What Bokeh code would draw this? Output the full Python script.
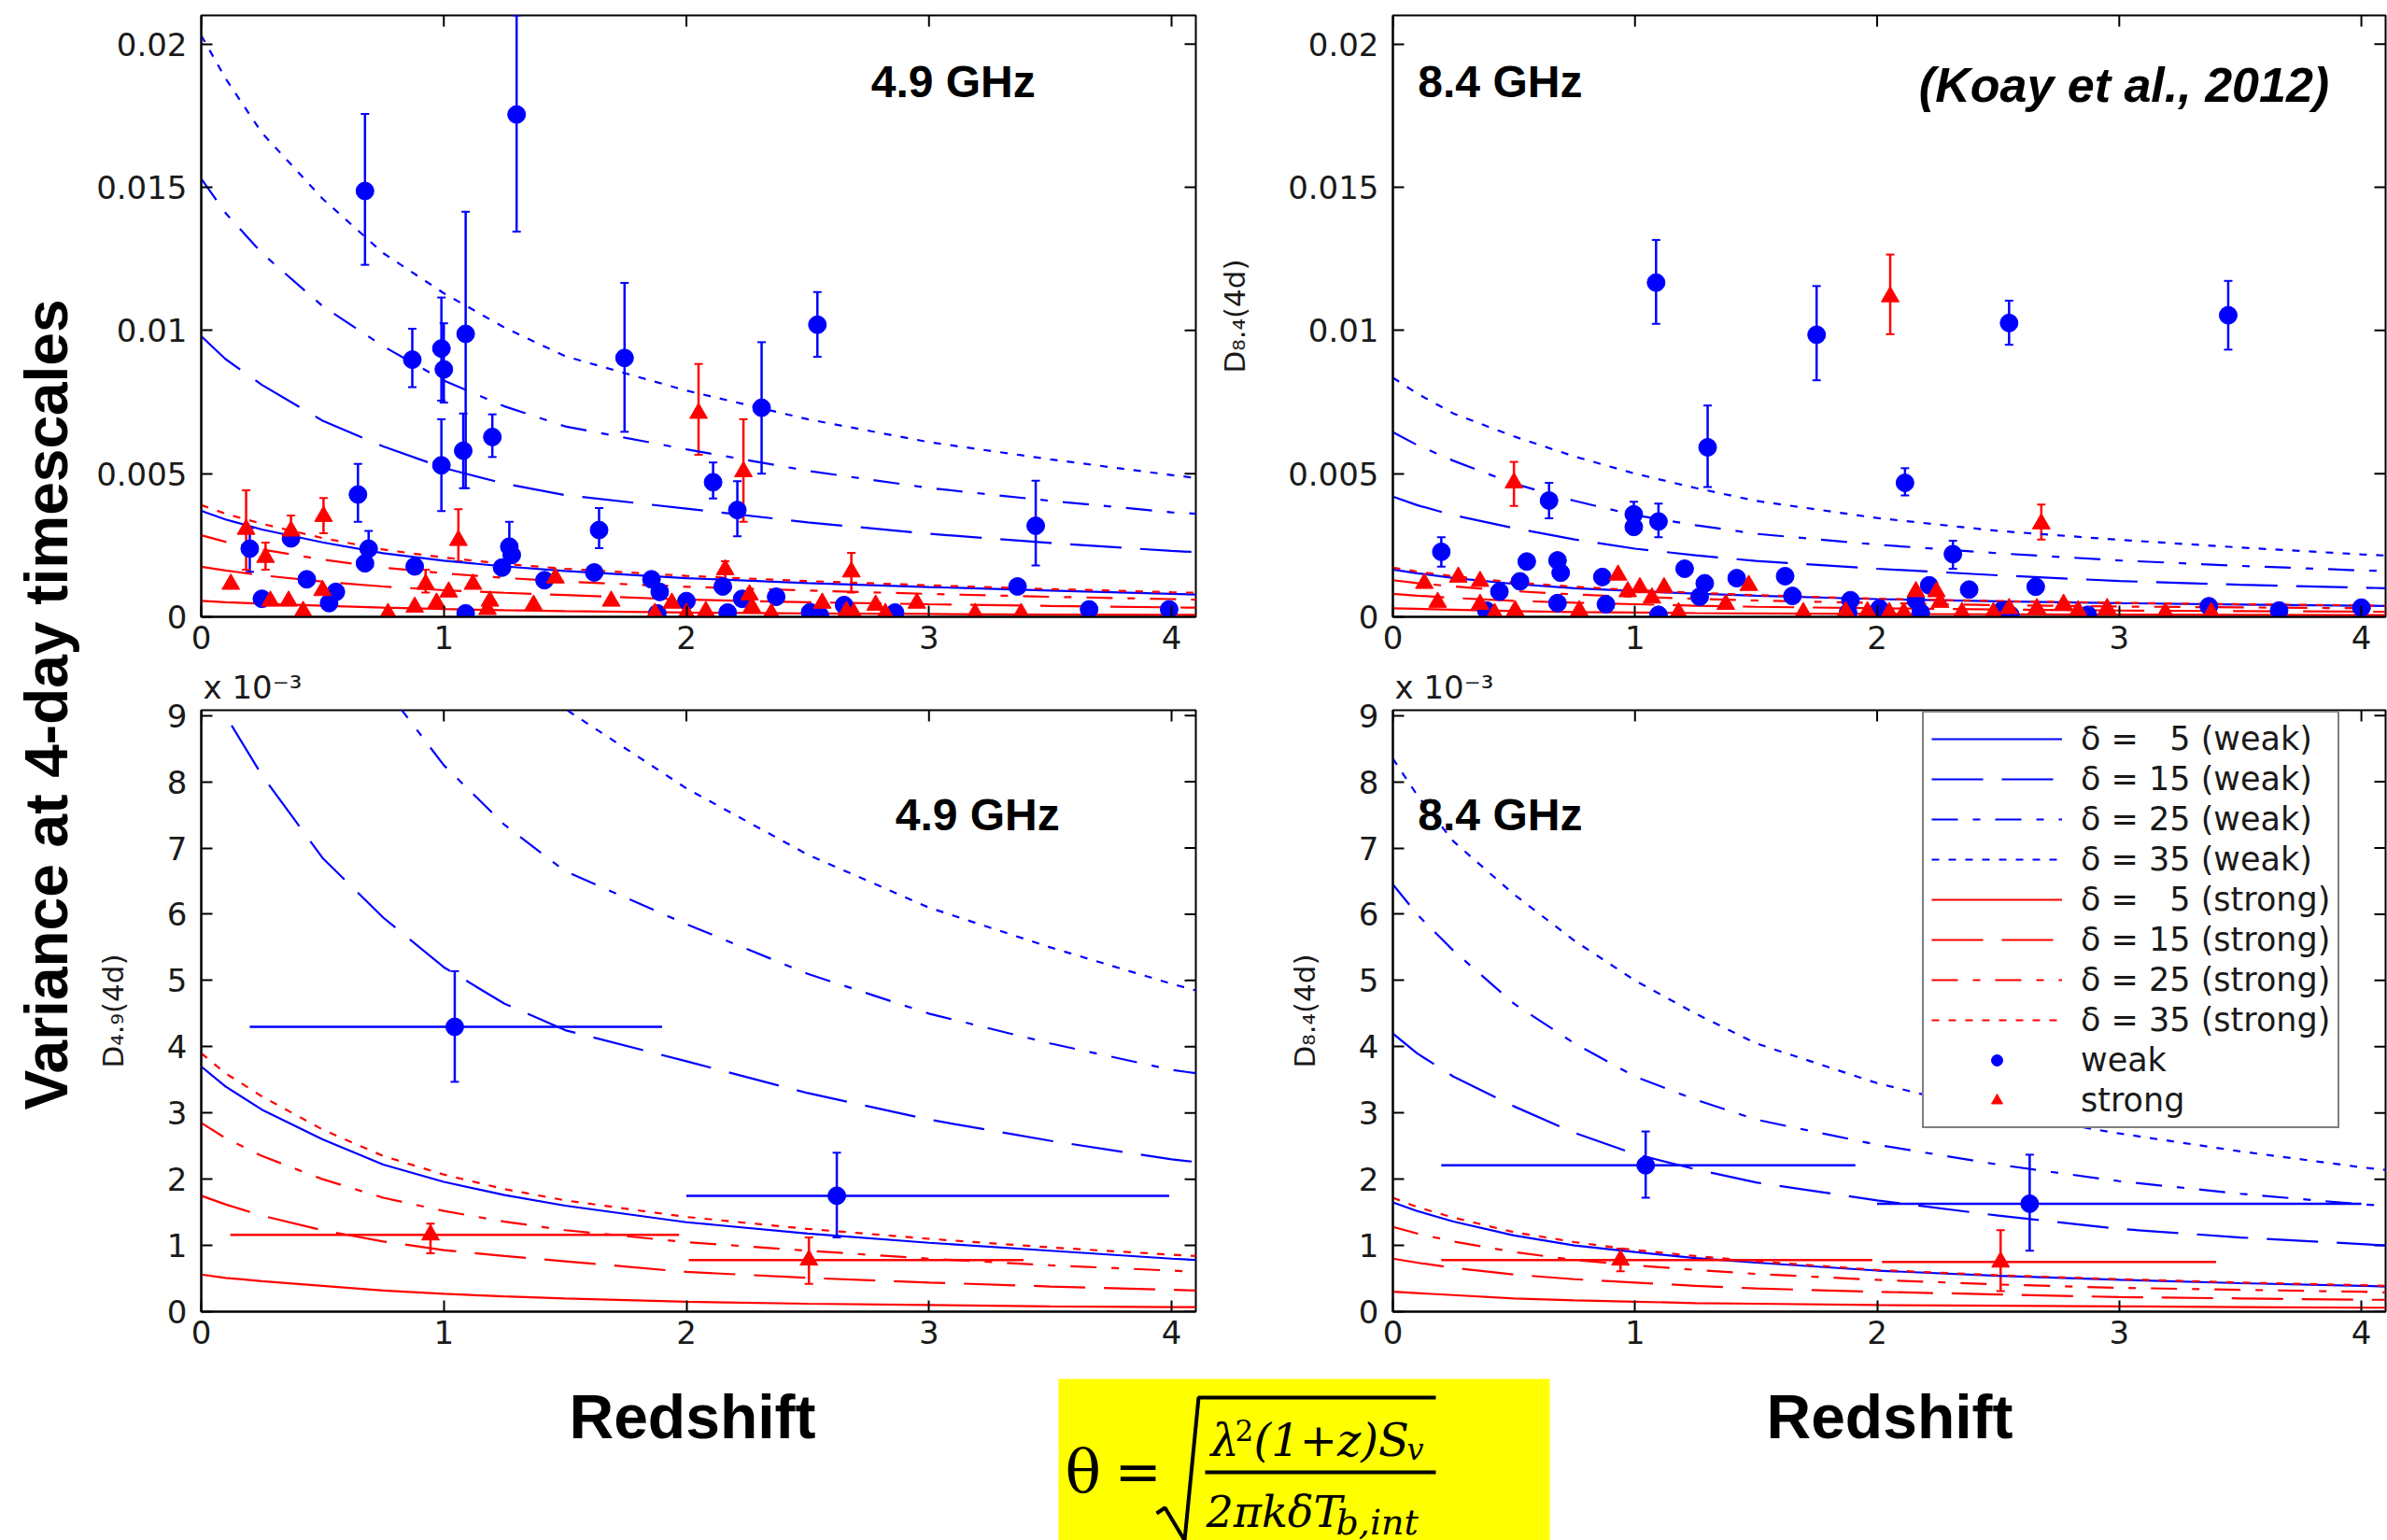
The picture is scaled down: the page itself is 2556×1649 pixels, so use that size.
import math
from bokeh.plotting import figure
from bokeh.models import (Range1d, FixedTicker, Label, Legend, LegendItem, Title,
                          Whisker, TeeHead, ColumnDataSource)
from bokeh.layouts import row, column
from bokeh.embed import file_html
from bokeh.resources import INLINE
from bokeh.core.properties import value

# ---------------------------------------------------------------- data
x_ticks = [0, 1, 2, 3, 4]
top_y_ticks = [0, 0.005, 0.01, 0.015, 0.02]
top_y_labels = ["0", "0.005", "0.01", "0.015", "0.02"]
bot_y_ticks = [0, 1, 2, 3, 4, 5, 6, 7, 8, 9]
deltas = [5, 15, 25, 35]

# model curves, D(4d) in units of 1e-3, sampled at z_model
z_model = [0, 0.1, 0.25, 0.5, 0.75, 1.0, 1.25, 1.5, 2.0, 2.5, 3.0, 3.5, 4.0, 4.1]
m49_weak = {
    5: [3.70, 3.40, 3.05, 2.60, 2.22, 1.96, 1.76, 1.60, 1.35, 1.18, 1.04, 0.92, 0.80, 0.78],
    15: [9.80, 9.00, 8.10, 6.85, 5.95, 5.20, 4.65, 4.25, 3.78, 3.30, 2.90, 2.58, 2.30, 2.26],
    25: [15.3, 14.1, 12.7, 10.85, 9.45, 8.25, 7.35, 6.65, 5.85, 5.10, 4.50, 4.05, 3.65, 3.60],
    35: [20.3, 18.8, 16.9, 14.6, 12.7, 11.3, 10.1, 9.10, 7.90, 6.90, 6.10, 5.50, 4.95, 4.85],
}
m49_strong = {
    5: [0.56, 0.51, 0.46, 0.39, 0.32, 0.27, 0.23, 0.20, 0.15, 0.12, 0.10, 0.08, 0.07, 0.07],
    15: [1.75, 1.62, 1.45, 1.23, 1.06, 0.93, 0.84, 0.76, 0.60, 0.51, 0.44, 0.38, 0.33, 0.32],
    25: [2.85, 2.62, 2.35, 2.00, 1.72, 1.52, 1.36, 1.23, 1.05, 0.92, 0.80, 0.70, 0.62, 0.60],
    35: [3.90, 3.60, 3.25, 2.75, 2.35, 2.07, 1.85, 1.68, 1.43, 1.25, 1.10, 0.97, 0.86, 0.84],
}
m84_weak = {
    5: [1.65, 1.52, 1.36, 1.15, 1.00, 0.90, 0.81, 0.74, 0.62, 0.54, 0.48, 0.43, 0.39, 0.38],
    15: [4.20, 3.90, 3.55, 3.10, 2.70, 2.38, 2.15, 1.95, 1.68, 1.45, 1.25, 1.12, 1.02, 1.00],
    25: [6.45, 6.00, 5.45, 4.65, 4.05, 3.55, 3.20, 2.90, 2.52, 2.22, 1.97, 1.78, 1.62, 1.60],
    35: [8.35, 7.80, 7.10, 6.30, 5.60, 5.00, 4.50, 4.05, 3.45, 3.00, 2.69, 2.42, 2.18, 2.14],
}
m84_strong = {
    5: [0.30, 0.28, 0.25, 0.20, 0.17, 0.15, 0.13, 0.12, 0.10, 0.09, 0.08, 0.07, 0.06, 0.06],
    15: [0.80, 0.74, 0.66, 0.56, 0.49, 0.44, 0.39, 0.35, 0.30, 0.26, 0.22, 0.20, 0.18, 0.18],
    25: [1.28, 1.18, 1.06, 0.90, 0.78, 0.70, 0.63, 0.57, 0.48, 0.41, 0.36, 0.33, 0.30, 0.29],
    35: [1.72, 1.58, 1.42, 1.20, 1.05, 0.93, 0.84, 0.76, 0.63, 0.55, 0.49, 0.44, 0.40, 0.39],
}

# individual sources, 4.9 GHz (D in units of 1e-3)
s49_weak_z = [0.675, 1.30, 0.87, 0.99, 1.00, 1.09, 0.99, 1.08, 1.20, 1.745, 2.54, 2.31, 2.11, 2.21,
              3.44, 0.646, 1.64, 0.20, 0.37, 0.69, 0.675, 1.27, 1.28, 1.24, 0.88, 0.435, 0.555,
              0.527, 0.25, 1.415, 1.62, 1.856, 1.89, 2.00, 2.15, 2.23, 2.37, 2.17, 1.09, 2.51,
              2.55, 2.65, 2.86, 3.365, 3.66, 3.99, 1.88]
s49_weak_d = [14.87, 17.54, 8.98, 9.37, 8.64, 9.88, 5.29, 5.80, 6.28, 9.04, 10.2, 7.30, 4.70, 3.73,
              3.18, 4.27, 3.03, 2.38, 2.74, 2.38, 1.87, 2.45, 2.16, 1.72, 1.76, 1.31, 0.87,
              0.48, 0.63, 1.28, 1.55, 1.31, 0.87, 0.55, 1.06, 0.63, 0.70, 0.15, 0.12, 0.16,
              0.05, 0.41, 0.15, 1.06, 0.26, 0.26, 0.12]
e49_weak_z = [0.675, 1.30, 0.87, 0.99, 1.00, 1.09, 0.99, 1.08, 1.20, 1.745, 2.54, 2.31, 2.11, 2.21,
              3.44, 0.646, 1.64, 0.20, 0.69, 1.27]
e49_weak_lo = [12.29, 13.45, 8.02, 7.55, 7.48, 4.49, 3.69, 4.49, 5.58, 6.46, 9.08, 5.00, 4.13, 2.81,
               1.79, 3.32, 2.40, 1.57, 1.87, 2.01]
e49_weak_hi = [17.56, 21.0, 10.06, 11.15, 10.25, 14.14, 6.90, 7.10, 7.07, 11.66, 11.34, 9.59, 5.39,
               4.74, 4.75, 5.34, 3.80, 3.10, 3.00, 3.32]

s49_strong_z = [2.05, 2.235, 0.504, 0.185, 0.37, 1.06, 0.265, 0.122, 0.50, 0.925, 1.02, 1.12, 0.97,
                1.19, 0.285, 0.36, 0.42, 0.77, 0.88, 1.18, 1.37, 1.46, 1.69, 1.87, 1.94, 2.00,
                2.08, 2.16, 2.26, 2.27, 2.35, 2.56, 2.68, 2.66, 2.78, 2.82, 2.95, 3.19, 3.38, 2.69]
s49_strong_d = [7.11, 5.07, 3.51, 3.06, 3.00, 2.67, 2.08, 1.14, 0.92, 1.14, 0.87, 1.14, 0.48,
                0.55, 0.55, 0.55, 0.19, 0.12, 0.34, 0.26, 0.41, 1.36, 0.55, 0.12, 0.48, 0.12,
                0.19, 1.65, 0.77, 0.34, 0.12, 0.48, 1.57, 0.19, 0.41, 0.12, 0.48, 0.12, 0.12, 0.12]
e49_strong_z = [2.05, 2.235, 0.504, 0.185, 0.37, 1.06, 0.265, 0.925, 2.16, 2.68]
e49_strong_lo = [5.66, 3.32, 2.92, 1.65, 2.59, 1.94, 1.65, 0.85, 1.28, 0.85]
e49_strong_hi = [8.83, 6.90, 4.15, 4.42, 3.54, 3.76, 2.59, 1.65, 1.94, 2.23]

# individual sources, 8.4 GHz (D in units of 1e-3)
s84_weak_z = [1.087, 1.75, 2.545, 3.45, 1.30, 2.115, 0.645, 0.995, 0.995, 1.097, 0.20, 2.313,
              0.553, 0.68, 0.693, 0.525, 0.44, 0.865, 1.205, 1.288, 1.267, 1.42, 1.62, 1.65,
              0.68, 0.88, 1.097, 1.89, 1.88, 2.01, 2.215, 2.16, 2.18, 2.38, 2.655, 2.515, 2.55,
              2.87, 3.37, 3.66, 4.0, 0.386]
s84_weak_d = [11.67, 9.85, 10.26, 10.53, 5.92, 4.68, 4.06, 3.58, 3.14, 3.33, 2.27, 2.19, 1.93,
              1.97, 1.54, 1.24, 0.88, 1.39, 1.68, 1.17, 0.70, 1.35, 1.42, 0.73, 0.48, 0.44, 0.07,
              0.58, 0.15, 0.29, 1.10, 0.58, 0.15, 0.95, 1.05, 0.22, 0.07, 0.07, 0.37, 0.22,
              0.32, 0.22]
e84_weak_z = [1.087, 1.75, 2.545, 3.45, 1.30, 2.115, 0.645, 0.995, 1.097, 0.20, 2.313]
e84_weak_lo = [10.23, 8.26, 9.50, 9.33, 4.53, 4.24, 3.44, 3.07, 2.78, 1.75, 1.68]
e84_weak_hi = [13.16, 11.55, 11.04, 11.73, 7.38, 5.19, 4.68, 4.02, 3.95, 2.78, 2.66]

s84_strong_z = [2.054, 0.50, 2.678, 0.13, 0.27, 0.36, 0.93, 1.02, 1.12, 0.97, 1.07, 1.47, 0.185,
                0.36, 0.42, 0.505, 0.77, 1.18, 1.375, 1.695, 1.87, 1.96, 2.05, 2.11, 2.16,
                2.245, 2.26, 2.35, 2.545, 2.66, 2.77, 2.83, 2.95, 3.19, 3.38, 2.48]
s84_strong_d = [11.18, 4.68, 3.25, 1.17, 1.39, 1.24, 1.46, 1.02, 1.02, 0.88, 0.66, 1.10, 0.51,
                0.44, 0.12, 0.22, 0.22, 0.15, 0.44, 0.15, 0.18, 0.18, 0.15, 0.15, 0.88, 0.88,
                0.51, 0.15, 0.29, 0.29, 0.44, 0.22, 0.29, 0.15, 0.15, 0.15]
e84_strong_z = [2.054, 0.50, 2.678]
e84_strong_lo = [9.87, 3.87, 2.70]
e84_strong_hi = [12.65, 5.41, 3.92]

# redshift-binned averages (units of 1e-3)
b49_weak = dict(z=[1.045, 2.62], d=[4.30, 1.75], lo=[3.47, 1.12], hi=[5.14, 2.40],
                zlo=[0.20, 2.00], zhi=[1.90, 3.99])
b49_strong = dict(z=[0.945, 2.505], d=[1.16, 0.78], lo=[0.88, 0.42], hi=[1.33, 1.12],
                  zlo=[0.12, 2.01], zhi=[1.97, 3.39])
b84_weak = dict(z=[1.044, 2.63], d=[2.21, 1.63], lo=[1.72, 0.92], hi=[2.72, 2.37],
                zlo=[0.20, 2.00], zhi=[1.91, 4.00])
b84_strong = dict(z=[0.94, 2.51], d=[0.78, 0.75], lo=[0.61, 0.31], hi=[0.95, 1.23],
                  zlo=[0.20, 2.02], zhi=[1.98, 3.40])

# ---------------------------------------------------------------- style
BLUE = "#0000FF"
RED = "#FF0000"
DASH = {5: "solid", 15: "55 20", 25: "28 16 8 16", 35: "8 10"}
TICK_FONT = "DejaVu Sans"
TXT = "#1a1a1a"
FH = 644
XMAX = 4.1


def style_axis(ax):
    ax.axis_line_color = "black"
    ax.axis_line_width = 2
    ax.major_tick_in = 12
    ax.major_tick_out = 0
    ax.minor_tick_in = 0
    ax.minor_tick_out = 0
    ax.major_tick_line_color = "black"
    ax.major_tick_line_width = 2
    ax.major_label_text_font = TICK_FONT
    ax.major_label_text_font_size = "34px"
    ax.major_label_text_color = TXT


def make_panel(bl, fw, br, bt, bb, ymax, yticks, ylabels):
    p = figure(frame_width=fw, frame_height=FH, x_range=Range1d(0, XMAX),
               y_range=Range1d(0, ymax), output_backend="svg", toolbar_location=None,
               min_border_left=bl, min_border_right=br, min_border_top=bt,
               min_border_bottom=bb)
    p.xgrid.visible = False
    p.ygrid.visible = False
    p.outline_line_color = "black"
    p.outline_line_width = 2
    p.xaxis.ticker = FixedTicker(ticks=x_ticks)
    p.yaxis.ticker = FixedTicker(ticks=yticks)
    p.yaxis.major_label_overrides = {t: l for t, l in zip(yticks, ylabels)}
    style_axis(p.xaxis[0])
    style_axis(p.yaxis[0])
    p.xaxis.major_label_standoff = 9
    p.yaxis.major_label_standoff = 15
    # inward ticks on the top and right edges of the box
    dy = 12.0 / FH * ymax
    dx = 12.0 / fw * XMAX
    p.segment(x0=x_ticks, y0=[ymax] * len(x_ticks), x1=x_ticks,
              y1=[ymax - dy] * len(x_ticks), line_color="black", line_width=2)
    p.segment(x0=[XMAX] * len(yticks), y0=yticks, x1=[XMAX - dx] * len(yticks),
              y1=yticks, line_color="black", line_width=2)
    return p


def add_curves(p, weak, strong, scale):
    rs = {}
    for d in deltas:
        rs[("w", d)] = p.line(z_model, [v * scale for v in weak[d]], line_color=BLUE,
                              line_width=2.2, line_dash=DASH[d])
    for d in deltas:
        rs[("s", d)] = p.line(z_model, [v * scale for v in strong[d]], line_color=RED,
                              line_width=2.2, line_dash=DASH[d])
    return rs


def add_vbars(p, zs, lo, hi, color, scale):
    src = ColumnDataSource(dict(base=zs, lower=[v * scale for v in lo],
                                upper=[v * scale for v in hi]))
    w = Whisker(base="base", lower="lower", upper="upper", source=src, dimension="height",
                line_color=color, line_width=2.5,
                upper_head=TeeHead(size=9, line_color=color, line_width=2),
                lower_head=TeeHead(size=9, line_color=color, line_width=2))
    p.add_layout(w)


def add_points(p, zs, ds, color, marker, scale):
    return p.scatter(list(zs), [v * scale for v in ds], marker=marker, size=19,
                     fill_color=color, line_color=color)


def title_label(p, x, y, text, style="bold", size="48px"):
    p.add_layout(Label(x=x, y=y, text=text, text_font="Liberation Sans",
                       text_font_style=style, text_font_size=size, text_align="center",
                       text_baseline="middle", text_color="black"))


def set_ylabel(p, text, standoff):
    p.yaxis.axis_label = text
    p.yaxis.axis_label_text_font = TICK_FONT
    p.yaxis.axis_label_text_font_size = "31px"
    p.yaxis.axis_label_text_font_style = "normal"
    p.yaxis.axis_label_text_color = TXT
    p.yaxis.axis_label_standoff = standoff


def exponent_title(p):
    p.add_layout(Title(text="x 10\u207b\u00b3", align="left", offset=2, standoff=10,
                       text_font=TICK_FONT, text_font_size="34px", text_font_style="normal",
                       text_color=TXT), "above")


SC = 1e-3
YMAX_TOP = 0.021
YMAX_BOT = 9.08
bot_labels = [str(t) for t in bot_y_ticks]

# ---------------------------------------------------------------- panels
tl = make_panel(125, 1065, 20, 16, 48, YMAX_TOP, top_y_ticks, top_y_labels)
tr = make_panel(191, 1063, 2, 16, 48, YMAX_TOP, top_y_ticks, top_y_labels)
bl = make_panel(125, 1065, 20, 50, 68, YMAX_BOT, bot_y_ticks, bot_labels)
br = make_panel(191, 1063, 2, 50, 68, YMAX_BOT, bot_y_ticks, bot_labels)

# top-left: 4.9 GHz individual sources
add_curves(tl, m49_weak, m49_strong, SC)
add_vbars(tl, e49_weak_z, e49_weak_lo, e49_weak_hi, BLUE, SC)
add_vbars(tl, e49_strong_z, e49_strong_lo, e49_strong_hi, RED, SC)
add_points(tl, s49_weak_z, s49_weak_d, BLUE, "circle", SC)
add_points(tl, s49_strong_z, s49_strong_d, RED, "triangle", SC)
title_label(tl, 3.10, 0.01867, "4.9 GHz")

# top-right: 8.4 GHz individual sources
add_curves(tr, m84_weak, m84_strong, SC)
add_vbars(tr, e84_weak_z, e84_weak_lo, e84_weak_hi, BLUE, SC)
add_vbars(tr, e84_strong_z, e84_strong_lo, e84_strong_hi, RED, SC)
add_points(tr, s84_weak_z, s84_weak_d, BLUE, "circle", SC)
add_points(tr, s84_strong_z, s84_strong_d, RED, "triangle", SC)
title_label(tr, 0.443, 0.01867, "8.4 GHz")
title_label(tr, 3.02, 0.01856, "(Koay et al., 2012)", style="bold italic", size="52px")
set_ylabel(tr, "D\u2088.\u2084(4d)", 36)


def binned(p, b, color, marker):
    p.segment(x0=b["zlo"], y0=b["d"], x1=b["zhi"], y1=b["d"], line_color=color, line_width=2.5)
    add_vbars(p, b["z"], b["lo"], b["hi"], color, 1.0)
    return add_points(p, b["z"], b["d"], color, marker, 1.0)


# bottom-left: 4.9 GHz binned
add_curves(bl, m49_weak, m49_strong, 1.0)
binned(bl, b49_weak, BLUE, "circle")
binned(bl, b49_strong, RED, "triangle")
title_label(bl, 3.20, 7.50, "4.9 GHz")
set_ylabel(bl, "D\u2084.\u2089(4d)", 37)
exponent_title(bl)

# bottom-right: 8.4 GHz binned + legend
rs = add_curves(br, m84_weak, m84_strong, 1.0)
rw = binned(br, b84_weak, BLUE, "circle")
rst = binned(br, b84_strong, RED, "triangle")
title_label(br, 0.443, 7.50, "8.4 GHz")
set_ylabel(br, "D\u2088.\u2084(4d)", 37)
exponent_title(br)

items = []
for kind, word in (("w", "weak"), ("s", "strong")):
    for d in deltas:
        num = ("\u2007" + str(d)) if d < 10 else str(d)
        items.append(LegendItem(label="\u03b4 = %s (%s)" % (num, word), renderers=[rs[(kind, d)]]))
items.append(LegendItem(label="weak", renderers=[rw]))
items.append(LegendItem(label="strong", renderers=[rst]))
legend = Legend(items=items, location=(567, 196), label_text_font=TICK_FONT,
                label_text_font_size="35px", label_text_color=TXT, glyph_width=140,
                glyph_height=30, label_height=30, label_standoff=20, spacing=3, padding=8,
                margin=0, border_line_color="black", border_line_width=2,
                background_fill_color="white", background_fill_alpha=1.0)
br.add_layout(legend)

# ---------------------------------------------------------------- left text column
left = figure(frame_width=90, frame_height=1470, x_range=Range1d(0, 90),
              y_range=Range1d(0, 1470), output_backend="svg", toolbar_location=None,
              min_border=0, x_axis_type=None, y_axis_type=None)
left.grid.visible = False
left.outline_line_color = None
left.add_layout(Label(x=49, y=716, angle=math.pi / 2, text="Variance at 4-day timescales",
                      text_font="Liberation Sans", text_font_style="bold",
                      text_font_size="64px", text_align="center", text_baseline="middle",
                      text_color="black"))

# ---------------------------------------------------------------- bottom strip
bot = figure(frame_width=2556, frame_height=179, x_range=Range1d(0, 2556),
             y_range=Range1d(1649, 1470), output_backend="svg", toolbar_location=None,
             min_border=0, x_axis_type=None, y_axis_type=None)
bot.grid.visible = False
bot.outline_line_color = None
bot.text(x=[741, 2023], y=[1514, 1514], text=["Redshift", "Redshift"],
         text_font=value("Liberation Sans"), text_font_style="bold", text_font_size="66px",
         text_align="center", text_baseline="middle", text_color="black")
bot.quad(left=[1133], right=[1659], top=[1474], bottom=[1649], fill_color="#FFFF00",
         line_color=None)
SERIF = value("DejaVu Serif")


def ftext(x, y, s, size, style="normal"):
    bot.text(x=[x], y=[y], text=[s], text_font=SERIF, text_font_style=style,
             text_font_size=size, text_baseline="middle", text_color="black")


ftext(1140, 1572, "\u03b8", "64px")
ftext(1193, 1572, "=", "60px")
bot.line(x=[1238, 1247, 1268, 1283, 1537], y=[1618, 1612, 1647, 1494, 1494],
         line_color="black", line_width=4)
bot.segment(x0=[1290], y0=[1574], x1=[1537], y1=[1574], line_color="black", line_width=4)
ftext(1296, 1539, "\u03bb", "48px", "italic")
ftext(1322, 1529, "2", "31px")
ftext(1342, 1539, "(1+z)S", "48px", "italic")
ftext(1506, 1549, "v", "32px", "italic")
ftext(1291, 1616, "2\u03c0k\u03b4T", "46px", "italic")
ftext(1430, 1627, "b,int", "38px", "italic")

# ---------------------------------------------------------------- layout
grid = column(row(tl, tr), row(bl, br))
page = column(row(left, grid), bot)
open("out.html", "w").write(file_html(page, INLINE, title="Koay et al. 2012"))
